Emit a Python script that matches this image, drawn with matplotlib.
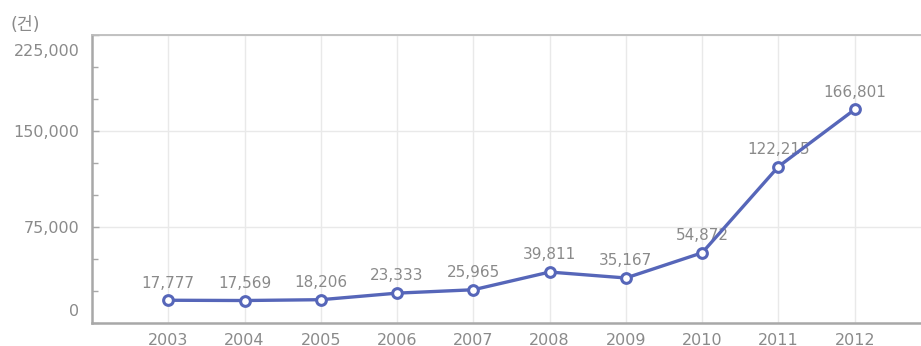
import matplotlib
matplotlib.use("Agg")
import matplotlib.pyplot as plt
import matplotlib.transforms as mtransforms
from matplotlib.ticker import MultipleLocator, FuncFormatter

# ── data ──────────────────────────────────────────────────────────────────────
years = [2003, 2004, 2005, 2006, 2007, 2008, 2009, 2010, 2011, 2012]
counts = [17777, 17569, 18206, 23333, 25965, 39811, 35167, 54872, 122215, 166801]
y_ticks = [0, 75000, 150000, 225000]

C_LINE = "#5666b9"
C_TEXT = "#8a8a8a"
C_SPINE = "#a8a8a8"
C_GRID = "#e9e9e9"

plt.rcParams["font.family"] = ["DejaVu Sans", "Noto Sans CJK KR"]

# ── figure ────────────────────────────────────────────────────────────────────
fig = plt.figure(figsize=(9.21, 3.46), dpi=100)
fig.patch.set_facecolor("white")
ax = fig.add_axes([92 / 921, 1 - 323 / 346, 839 / 921, 288 / 346])

ax.plot(years, counts, color=C_LINE, linewidth=2.4, marker="o",
        markersize=7, markerfacecolor="white", markeredgecolor=C_LINE,
        markeredgewidth=2.2, zorder=5, clip_on=False)

for x, y in zip(years, counts):
    ax.annotate(f"{y:,}", xy=(x, y), xytext=(0, 7), textcoords="offset points",
                ha="center", va="bottom", fontsize=11, color=C_TEXT, zorder=3)

ax.set_xlim(2002, 2013)
ax.set_ylim(0, 225000)
ax.set_xticks(years)
ax.set_yticks(y_ticks)
ax.yaxis.set_minor_locator(MultipleLocator(25000))
ax.yaxis.set_major_formatter(FuncFormatter(lambda v, p: f"{int(v):,}"))

ax.grid(True, color=C_GRID, linewidth=1.0, zorder=0)
ax.set_axisbelow(True)

ax.tick_params(axis="x", length=0, pad=7, labelsize=11.5, labelcolor=C_TEXT)
ax.tick_params(axis="y", which="major", direction="in", length=5, width=1,
               color=C_SPINE, pad=9, labelsize=11.5, labelcolor=C_TEXT)
ax.tick_params(axis="y", which="minor", direction="in", length=4, width=1,
               color=C_SPINE)

# end labels sit inside the frame, as in the original
labels = ax.get_yticklabels()
labels[0].set_transform(labels[0].get_transform() +
                        mtransforms.ScaledTranslation(0, 13 / 100, fig.dpi_scale_trans))
labels[-1].set_transform(labels[-1].get_transform() +
                         mtransforms.ScaledTranslation(0, -15 / 100, fig.dpi_scale_trans))

for side in ["left", "bottom"]:
    ax.spines[side].set_color(C_SPINE)
    ax.spines[side].set_linewidth(1.8)
for side in ["top", "right"]:
    ax.spines[side].set_color("#bdbdbd")
    ax.spines[side].set_linewidth(1.3)

fig.text(10 / 921, 1 - 25 / 346, "(건)", ha="left", va="center",
         fontsize=12.5, color=C_TEXT)

fig.savefig("out.png", dpi=100, facecolor="white")
